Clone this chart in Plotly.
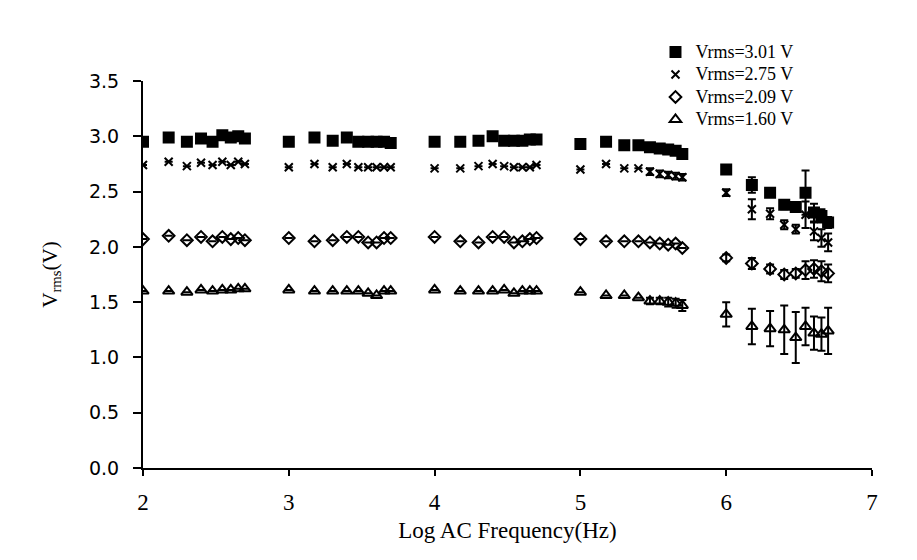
import numpy as np
import plotly.graph_objects as go

# Frequencies (Hz) of the measurement points
freqs = [100, 150, 200, 250, 300, 350, 400, 450, 500,
         1000, 1500, 2000, 2500, 3000, 3500, 4000, 4500, 5000,
         10000, 15000, 20000, 25000, 30000, 35000, 40000, 45000, 50000,
         100000, 150000, 200000, 250000, 300000, 350000, 400000, 450000, 500000,
         1000000, 1500000, 2000000, 2500000, 3000000, 3500000, 4000000, 4500000, 5000000]

v301 = [2.95, 2.99, 2.95, 2.98, 2.95, 3.01, 2.99, 3.00, 2.98,
        2.95, 2.99, 2.96, 2.99, 2.95, 2.95, 2.95, 2.95, 2.94,
        2.95, 2.95, 2.96, 3.00, 2.96, 2.96, 2.96, 2.97, 2.97,
        2.93, 2.95, 2.92, 2.92, 2.90, 2.89, 2.88, 2.87, 2.84,
        2.70, 2.56, 2.49, 2.38, 2.36, 2.49, 2.31, 2.28, 2.22]
e301 = [None] * 36 + [0.03, 0.07, 0.04, 0.04, 0.04, 0.20, 0.08, 0.06, 0.05]

v275 = [2.74, 2.77, 2.73, 2.76, 2.74, 2.77, 2.74, 2.77, 2.75,
        2.72, 2.75, 2.72, 2.75, 2.72, 2.72, 2.72, 2.72, 2.72,
        2.71, 2.71, 2.73, 2.75, 2.73, 2.72, 2.72, 2.72, 2.74,
        2.70, 2.75, 2.71, 2.71, 2.68, 2.66, 2.65, 2.64, 2.63,
        2.49, 2.34, 2.30, 2.20, 2.16, 2.29, 2.14, 2.08, 2.04]
e275 = [None] * 31 + [0.03, 0.03, 0.03, 0.03, 0.03,
                      0.03, 0.09, 0.05, 0.04, 0.04, 0.12, 0.08, 0.08, 0.08]

v209 = [2.07, 2.10, 2.06, 2.09, 2.05, 2.09, 2.07, 2.08, 2.06,
        2.08, 2.05, 2.06, 2.09, 2.09, 2.04, 2.04, 2.08, 2.08,
        2.09, 2.05, 2.04, 2.09, 2.09, 2.04, 2.05, 2.07, 2.08,
        2.07, 2.05, 2.05, 2.05, 2.04, 2.03, 2.02, 2.03, 1.99,
        1.90, 1.85, 1.80, 1.75, 1.76, 1.79, 1.80, 1.78, 1.76]
e209 = [None] * 36 + [0.03, 0.05, 0.04, 0.04, 0.04, 0.08, 0.08, 0.09, 0.08]

v160 = [1.60, 1.60, 1.59, 1.61, 1.60, 1.61, 1.61, 1.62, 1.62,
        1.61, 1.60, 1.60, 1.60, 1.60, 1.58, 1.56, 1.60, 1.60,
        1.61, 1.60, 1.60, 1.60, 1.61, 1.58, 1.60, 1.60, 1.60,
        1.59, 1.56, 1.56, 1.54, 1.51, 1.51, 1.50, 1.49, 1.47,
        1.39, 1.28, 1.26, 1.25, 1.18, 1.28, 1.22, 1.21, 1.24]
e160 = [None] * 31 + [0.03, 0.03, 0.04, 0.04, 0.05,
                      0.11, 0.16, 0.16, 0.22, 0.23, 0.17, 0.15, 0.15, 0.21]

names = ["Vrms=3.01 V", "Vrms=2.75 V", "Vrms=2.09 V", "Vrms=1.60 V"]
symbols = ["square", "x-thin-open", "diamond-open", "triangle-up-open"]
sizes = [10, 8, 9, 10]

x_tick_vals = [2, 3, 4, 5, 6, 7]
x_tick_text = ["2", "3", "4", "5", "6", "7"]
y_tick_vals = [0, 0.5, 1.0, 1.5, 2.0, 2.5, 3.0, 3.5]
y_tick_text = ["0.0", "0.5", "1.0", "1.5", "2.0", "2.5", "3.0", "3.5"]

x = np.log10(np.array(freqs, dtype=float))

fig = go.Figure()
for name, vals, errs, sym, sz in zip(names, [v301, v275, v209, v160],
                                     [e301, e275, e209, e160], symbols, sizes):
    fig.add_trace(go.Scatter(
        x=x, y=vals, mode="markers",
        name='<span style="font-size:18px">' + name + '</span>',
        marker=dict(symbol=sym, size=sz, color="black",
                    line=dict(color="black", width=2)),
        error_y=dict(type="data", array=errs, visible=True,
                     color="black", thickness=2, width=4),
    ))

serif = "Liberation Serif, Times New Roman, serif"
fig.update_layout(
    width=917, height=560,
    paper_bgcolor="white", plot_bgcolor="white",
    margin=dict(l=135, r=53, t=73, b=100),
    showlegend=True,
    legend=dict(x=0.703, y=1.117, xanchor="left", yanchor="top",
                font=dict(family=serif, size=15, color="black"),
                bgcolor="rgba(0,0,0,0)", tracegroupgap=0,
                itemwidth=30),
    xaxis=dict(range=[2, 7], tickvals=x_tick_vals, ticktext=x_tick_text,
               showgrid=False, zeroline=False, showline=True, linecolor="black", linewidth=2,
               ticks="outside", ticklen=6, tickwidth=2, tickcolor="black",
               ticklabelstandoff=6,
               tickfont=dict(family=serif, size=23, color="black"),
               title=dict(text="Log AC Frequency(Hz)", font=dict(family=serif, size=23, color="black"),
                          standoff=8)),
    yaxis=dict(range=[0, 3.5], tickvals=y_tick_vals, ticktext=y_tick_text,
               showgrid=False, zeroline=False, showline=True, linecolor="black", linewidth=2,
               ticks="outside", ticklen=8, tickwidth=2, tickcolor="black",
               ticklabelstandoff=10,
               tickfont=dict(family="DejaVu Sans, sans-serif", size=19, color="black"),
               title=dict(text="V<sub>rms</sub>(V)", font=dict(family=serif, size=21, color="black"),
                          standoff=26)),
)

fig.write_html("out.html")
